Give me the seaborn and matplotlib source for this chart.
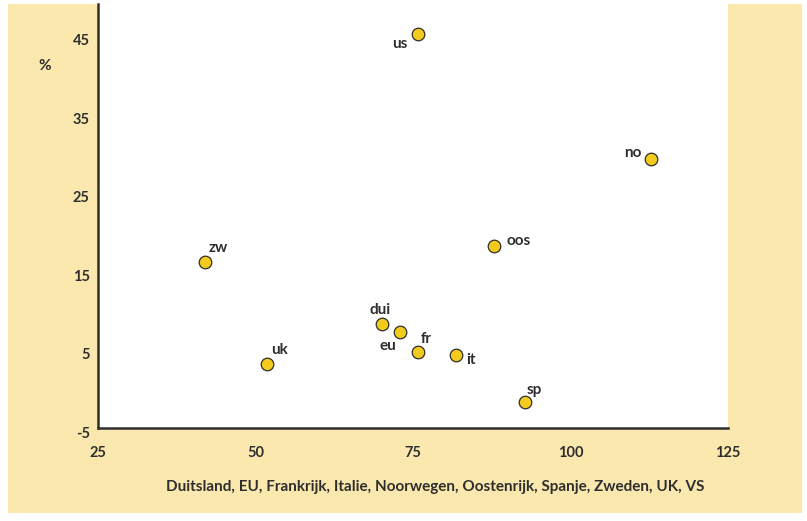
import pandas as pd
import matplotlib.pyplot as plt
import matplotlib.transforms as mtransforms
from matplotlib.patches import Rectangle
import seaborn as sns

# data
landen = ['us', 'no', 'oos', 'zw', 'dui', 'eu', 'fr', 'it', 'uk', 'sp']
x_waarde = [75.8, 112.8, 87.9, 42.0, 70.0, 73.0, 75.8, 81.9, 51.9, 92.8]
y_waarde = [45.2, 29.2, 18.2, 16.1, 8.2, 7.2, 4.7, 4.3, 3.1, -1.7]
x_ticks = [25, 50, 75, 100, 125]
y_ticks = [-5, 5, 15, 25, 35, 45]
x_titel = 'Duitsland, EU, Frankrijk, Italie, Noorwegen, Oostenrijk, Spanje, Zweden, UK, VS'
y_titel = '%'

df = pd.DataFrame({'land': landen, 'x': x_waarde, 'y': y_waarde})

# label placement (pixel offsets from the marker)
label_offset = {
    'us': (-18, -10), 'no': (-18, 6), 'oos': (24, 5), 'zw': (13, 14),
    'dui': (-1, 14), 'eu': (-13, -14), 'fr': (8, 13), 'it': (15, -5),
    'uk': (12, 14), 'sp': (9, 12),
}

sns.set_style('white')
plt.rcParams['font.family'] = ['Lato', 'DejaVu Sans']
plt.rcParams['axes.unicode_minus'] = False

ink = '#2e2e2e'
beige = '#fae8ae'
geel = '#f2cb1d'

fig = plt.figure(figsize=(8.07, 5.21), dpi=100)
fig.patch.set_facecolor('white')
fig.patches.append(Rectangle((8 / 807, 1 - 513 / 521), 794 / 807, 509 / 521,
                             transform=fig.transFigure, facecolor=beige,
                             edgecolor='none', zorder=-10))

ax = fig.add_axes([98 / 807, 1 - 428 / 521, 630 / 807, 424 / 521])
ax.set_facecolor('white')

sns.scatterplot(data=df, x='x', y='y', ax=ax, s=82, color=geel,
                edgecolor=ink, linewidth=0.9, zorder=3, clip_on=False)

for _, r in df.iterrows():
    dx, dy = label_offset[r['land']]
    ax.annotate(r['land'], (r['x'], r['y']), xytext=(dx, dy),
                textcoords='offset pixels', ha='center', va='center',
                fontsize=11, fontweight='bold', color=ink)

ax.set_xlim(25, 125)
ax.set_ylim(-5, 49)
ax.set_xticks(x_ticks)
ax.set_yticks(y_ticks)

for side in ['top', 'right']:
    ax.spines[side].set_visible(False)
for side in ['left', 'bottom']:
    ax.spines[side].set_color(ink)
    ax.spines[side].set_linewidth(1.8)

ax.tick_params(axis='both', direction='in', length=5, width=1.6, color=ink,
               labelsize=10.5, labelcolor=ink)
ax.tick_params(axis='x', pad=13)
ax.tick_params(axis='y', pad=6)
for lab in ax.get_xticklabels() + ax.get_yticklabels():
    lab.set_fontweight('bold')
off = mtransforms.ScaledTranslation(0, -3 / 72, fig.dpi_scale_trans)
for lab in ax.get_yticklabels():
    lab.set_transform(lab.get_transform() + off)

ax.set_xlabel('')
ax.set_ylabel('')
fig.text(45 / 807, 1 - 66 / 521, y_titel, ha='center', va='center',
         fontsize=11, fontweight='bold', color=ink)
fig.text(435 / 807, 1 - 487 / 521, x_titel, ha='center', va='center',
         fontsize=11, fontweight='bold', color=ink)

fig.savefig('out.png', dpi=100)
